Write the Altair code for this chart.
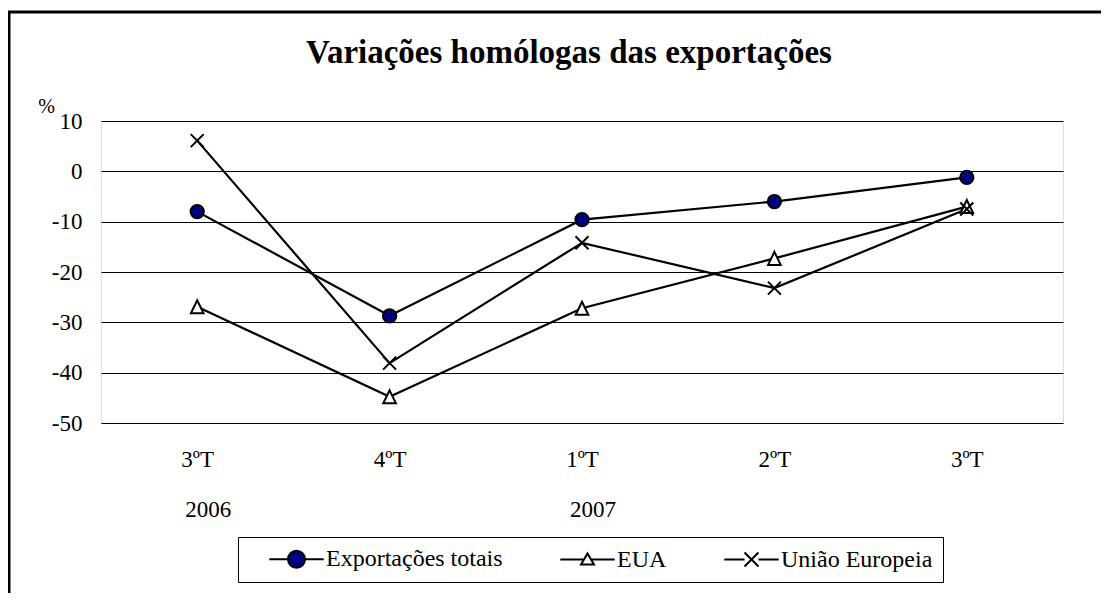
import json
import altair as alt
import pandas as pd

# ---- data ----
quarters = ["3ºT", "4ºT", "1ºT", "2ºT", "3ºT"]
years = ["2006", "2007"]
year_idx = [0, 2]
series = ["Exportações totais", "EUA", "União Europeia"]
totais = [-8.0, -28.7, -9.6, -6.0, -1.2]
eua = [-26.9, -44.8, -27.2, -17.3, -7.0]
ue = [6.1, -38.1, -14.2, -23.2, -7.5]
y_ticks = [-50, -40, -30, -20, -10, 0, 10]
title_text = ["Variações homólogas das exportações"]

rows = []
for name, vals in zip(series, [totais, eua, ue]):
    for i, v in enumerate(vals):
        rows.append({"idx": i, "serie": name, "valor": v})
df = pd.DataFrame(rows)
df_years = pd.DataFrame({"idx": year_idx, "ano": years})

FONT = "Liberation Serif"
fills = ["#000080", "white", "black"]
strokes = ["black", "black", "black"]

# marker shapes (unit box -1..1)
marker_paths = [
    "M0.95,0A0.95,0.95 0 1,1 -0.95,0A0.95,0.95 0 1,1 0.95,0Z",
    "M0,-0.93L0.9,0.93L-0.9,0.93Z",
    "M-0.93,-0.93L0.93,0.93M-0.93,0.93L0.93,-0.93",
]
# legend symbols: line - marker - line
legend_paths = [
    "M-3.2,0H-1M1,0H3.2M1,0A1,1 0 1,1 -1,0A1,1 0 1,1 1,0Z",
    "M-3.2,0H-0.41M0.41,0H3.2M0,-0.7L0.76,0.6L-0.76,0.6Z",
    "M-3.2,0H-0.82M0.82,0H3.2M-0.82,-0.82L0.82,0.82M-0.82,0.82L0.82,-0.82",
]

js = lambda v: json.dumps(v, ensure_ascii=False)
label_expr = js(quarters) + "[datum.value]"

x_enc = alt.X(
    "idx:O",
    scale=alt.Scale(type="point", padding=0.5),
    axis=alt.Axis(
        labelExpr=label_expr, labelAngle=0, ticks=False, domain=False, grid=False,
        labelPadding=25, labelFontSize=23, labelFont=FONT, labelColor="black",
        title=None,
    ),
)
y_enc = alt.Y(
    "valor:Q",
    scale=alt.Scale(domain=[-50, 10], nice=False, zero=False),
    axis=alt.Axis(
        values=y_ticks, labelExpr="'' + datum.value", grid=True, gridColor="black",
        gridWidth=1, ticks=False, domain=False, labelPadding=19, labelFontSize=23,
        labelFont=FONT, labelColor="black", title="%", titleAngle=0, titleX=-55,
        titleY=-15, titleFont=FONT, titleFontSize=20, titleFontWeight="normal",
        titleColor="black", titleAlign="center", titleBaseline="middle",
    ),
)

base = alt.Chart(df)

lines = base.mark_line(color="black", strokeWidth=2.2).encode(
    x=x_enc, y=y_enc, detail="serie:N"
)

points = base.mark_point(
    filled=True, stroke="black", strokeWidth=2, size=196, opacity=1
).encode(
    x=x_enc, y=y_enc,
    shape=alt.Shape("serie:N", scale=alt.Scale(domain=series, range=marker_paths), legend=None),
    fill=alt.Fill("serie:N", scale=alt.Scale(domain=series, range=fills), legend=None),
)

leg = alt.Legend(
    title=None, orient="none", legendX=137, legendY=416, direction="horizontal",
    columnPadding=36, padding=10, strokeColor="black", fillColor="white",
    symbolSize=289, symbolStrokeWidth=2, symbolStrokeColor="black",
    symbolOffset=36.5, labelOffset=17.5, labelFont=FONT, labelFontSize=24,
    labelColor="black", labelLimit=0, symbolOpacity=1,
)

legend_layer = base.transform_filter("false").mark_point(
    filled=True, strokeWidth=2, size=196, opacity=1
).encode(
    x=x_enc, y=y_enc,
    shape=alt.Shape("serie:N", scale=alt.Scale(domain=series, range=legend_paths), legend=leg),
    fill=alt.Fill("serie:N", scale=alt.Scale(domain=series, range=fills), legend=leg),
    stroke=alt.Stroke("serie:N", scale=alt.Scale(domain=series, range=strokes), legend=leg),
)

year_text = alt.Chart(df_years).mark_text(
    font=FONT, fontSize=23, color="black", dx=11, baseline="alphabetic", align="center"
).encode(x=x_enc, y=alt.value(396), text="ano:N")

title = alt.Chart(pd.DataFrame({"t": title_text})).mark_text(
    font=FONT, fontSize=33, fontWeight="bold", color="black",
    baseline="alphabetic", align="center",
).encode(x=alt.value(468), y=alt.value(-58), text="t:N")

one = pd.DataFrame({"a": [0]})
frame_v = alt.Chart(one).mark_rule(color="black", strokeWidth=3).encode(
    x=alt.value(-92), y=alt.value(-109), y2=alt.value(500)
)
frame_h = alt.Chart(one).mark_rule(color="black", strokeWidth=3).encode(
    x=alt.value(-93.5), x2=alt.value(1020), y=alt.value(-109)
)

chart = alt.layer(
    frame_v, frame_h, lines, points, legend_layer, year_text, title
).resolve_scale(
    shape="independent", fill="independent", stroke="independent"
).properties(
    width=962, height=302,
    autosize=alt.AutoSizeParams(type="none"),
    padding={"left": 93, "top": 113, "right": 38, "bottom": 170},
).configure_view(
    stroke="black", strokeWidth=1
).configure(background="white")

chart.save("out.html", embed_options={"renderer": "svg", "actions": False})
